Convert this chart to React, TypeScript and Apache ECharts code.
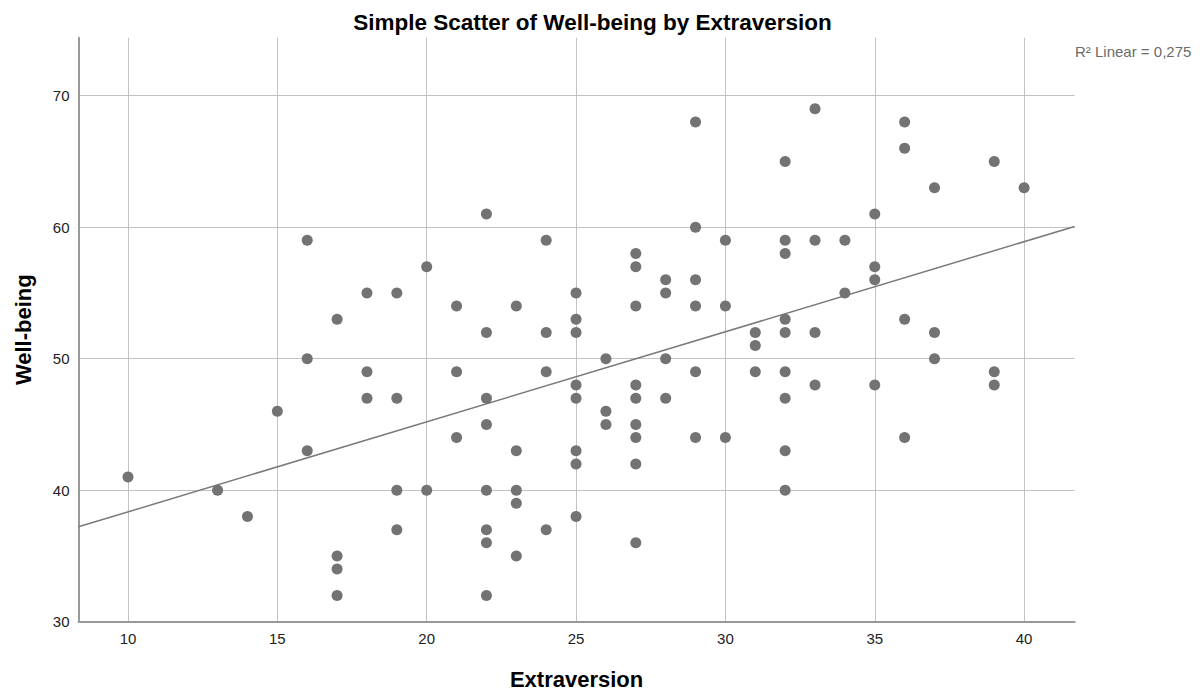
import React, { useEffect, useRef } from "react";
import * as echarts from "echarts";

// Extraversion (x) and Well-being (y), listed column by column
const extraversion: number[] = [
  10,
  13,
  14,
  15,
  16, 16, 16,
  17, 17, 17, 17,
  18, 18, 18,
  19, 19, 19, 19,
  20, 20,
  21, 21, 21,
  22, 22, 22, 22, 22, 22, 22, 22,
  23, 23, 23, 23, 23,
  24, 24, 24, 24,
  25, 25, 25, 25, 25, 25, 25, 25,
  26, 26, 26,
  27, 27, 27, 27, 27, 27, 27, 27, 27,
  28, 28, 28, 28,
  29, 29, 29, 29, 29, 29,
  30, 30, 30,
  31, 31, 31,
  32, 32, 32, 32, 32, 32, 32, 32, 32,
  33, 33, 33, 33,
  34, 34,
  35, 35, 35, 35,
  36, 36, 36, 36,
  37, 37, 37,
  39, 39, 39,
  40,
];
const wellBeing: number[] = [
  41,
  40,
  38,
  46,
  59, 50, 43,
  53, 35, 34, 32,
  55, 49, 47,
  55, 47, 40, 37,
  57, 40,
  54, 49, 44,
  61, 52, 47, 45, 40, 37, 36, 32,
  54, 43, 40, 39, 35,
  59, 52, 49, 37,
  55, 53, 52, 48, 47, 43, 42, 38,
  50, 46, 45,
  58, 57, 54, 48, 47, 45, 44, 42, 36,
  56, 55, 50, 47,
  68, 60, 56, 54, 49, 44,
  59, 54, 44,
  52, 51, 49,
  65, 59, 58, 53, 52, 49, 47, 43, 40,
  69, 59, 52, 48,
  59, 55,
  61, 57, 56, 48,
  68, 66, 53, 44,
  63, 52, 50,
  65, 49, 48,
  63,
];

const xTicks = [10, 15, 20, 25, 30, 35, 40];
const yTicks = [30, 40, 50, 60, 70];
const xRange = [8.343, 41.69];
const yRange = [30, 74.41];

// Fitted linear line
const fitIntercept = 31.5;
const fitSlope = 0.685;
const rSquaredLabel = "R\u00B2 Linear = 0,275";

const titleText = "Simple Scatter of Well-being by Extraversion";
const xName = "Extraversion";
const yName = "Well-being";

export default function App() {
  const ref = useRef<HTMLDivElement>(null);

  useEffect(() => {
    document.body.style.margin = "0";
    if (!ref.current) return;
    const chart = echarts.init(ref.current, undefined, { renderer: "svg" });
    const points = extraversion.map((x, i) => [x, wellBeing[i]]);
    const fitLine = xRange.map((x) => [x, fitIntercept + fitSlope * x]);
    const font = "'Liberation Sans', Arial, sans-serif";
    const gridColor = "#c2c2c2";
    const axisColor = "#999999";

    chart.setOption({
      animation: false,
      backgroundColor: "#ffffff",
      textStyle: { fontFamily: font },
      grid: {
        left: 78.5,
        top: 37.7,
        right: 125.4,
        bottom: 71.3,
        containLabel: false,
        outerBoundsMode: "none",
      },
      graphic: [
        {
          type: "text",
          x: 592.5,
          y: 22.9,
          style: {
            text: titleText,
            font: `bold 22.5px ${font}`,
            fill: "#000",
            align: "center",
            verticalAlign: "middle",
          },
        },
        {
          type: "text",
          x: 1075,
          y: 51,
          style: {
            text: rSquaredLabel,
            font: `15px ${font}`,
            fill: "#6b6b6b",
            align: "left",
            verticalAlign: "middle",
          },
        },
      ],
      xAxis: {
        type: "value",
        min: xRange[0],
        max: xRange[1],
        name: xName,
        nameLocation: "middle",
        nameGap: 47,
        nameTextStyle: {
          fontFamily: font,
          fontWeight: "bold",
          fontSize: 22,
          color: "#000",
        },
        axisLine: { show: true, onZero: false, lineStyle: { color: axisColor, width: 2 } },
        axisTick: { show: false, customValues: xTicks },
        axisLabel: {
          customValues: xTicks,
          margin: 9,
          fontSize: 15,
          color: "#222",
          fontFamily: font,
        },
        splitLine: { show: true, lineStyle: { color: gridColor, width: 1 } },
      },
      yAxis: {
        type: "value",
        min: yRange[0],
        max: yRange[1],
        name: yName,
        nameLocation: "middle",
        nameGap: 44,
        nameTextStyle: {
          fontFamily: font,
          fontWeight: "bold",
          fontSize: 22,
          color: "#000",
        },
        axisLine: { show: true, onZero: false, lineStyle: { color: axisColor, width: 2 } },
        axisTick: { show: false, customValues: yTicks },
        axisLabel: {
          customValues: yTicks,
          margin: 9,
          fontSize: 15,
          color: "#222",
          fontFamily: font,
        },
        splitLine: { show: true, lineStyle: { color: gridColor, width: 1 } },
      },
      series: [
        {
          type: "line",
          data: fitLine,
          symbol: "none",
          silent: true,
          z: 1,
          lineStyle: { color: "#7a7a7a", width: 1.5 },
        },
        {
          type: "scatter",
          data: points,
          symbol: "circle",
          symbolSize: 11,
          z: 2,
          itemStyle: { color: "#737373", opacity: 1 },
        },
      ],
    });

    return () => chart.dispose();
  }, []);

  return <div ref={ref} style={{ width: 1200, height: 693 }} />;
}
